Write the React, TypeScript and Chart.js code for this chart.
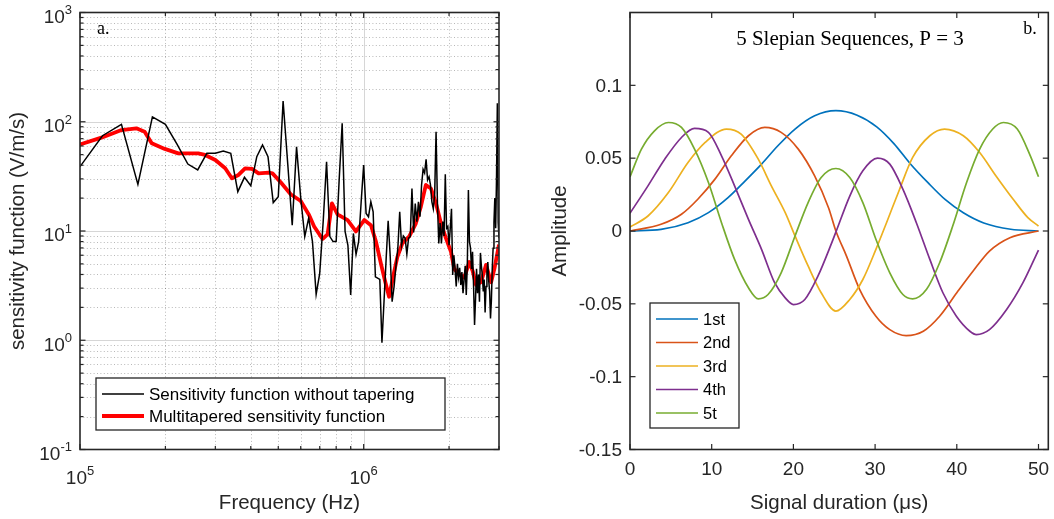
import React, { useEffect, useRef } from "react";
import { Chart, registerables } from "chart.js";

Chart.register(...registerables);

const FONT = '"Liberation Sans", Arial, Helvetica, sans-serif';
const SERIF = '"Liberation Serif", "Times New Roman", serif';
const AXIS = "#262626";

// ---------- Panel a: sensitivity function ----------
const rawFreqKHz = [
  100, 120, 140, 160, 180, 200, 220, 240, 260, 280,
  300, 320, 340, 360, 380, 400, 420, 440, 460, 480,
  500, 520, 540, 560, 580, 600, 620, 640, 660, 680,
  700, 720, 740, 760, 780, 800, 820, 840, 860, 880,
  900, 920, 940, 960, 980, 1000, 1020, 1040, 1060, 1080,
  1100, 1120, 1140, 1160, 1180, 1200, 1220, 1240, 1260, 1280,
  1300, 1320, 1340, 1360, 1380, 1400, 1420, 1440, 1460, 1480,
  1500, 1520, 1540, 1560, 1580, 1600, 1620, 1640, 1660, 1680,
  1700, 1720, 1740, 1760, 1780, 1800, 1820, 1840, 1860, 1880,
  1900, 1920, 1940, 1960, 1980, 2000, 2020, 2040, 2060, 2080,
  2100, 2120, 2140, 2160, 2180, 2200, 2220, 2240, 2260, 2280,
  2300, 2320, 2340, 2360, 2380, 2400, 2420, 2440, 2460, 2480,
  2500, 2520, 2540, 2560, 2580, 2600, 2620, 2640, 2660, 2680,
  2700, 2720, 2740, 2760, 2780, 2800, 2820, 2840, 2860, 2880,
  2900, 2920, 2940, 2960, 2980, 3000,
];
const rawSensitivity = [
  38.8, 74.5, 94.8, 26.7, 111, 94.8, 62, 41, 36.2, 51.4,
  51.4, 54, 51.4, 22.9, 31, 26, 47.9, 61.3, 47.9, 18.2,
  20.6, 155, 41, 11.3, 59, 20, 8.9, 13.1, 8.0, 2.63,
  4.1, 12.2, 43, 8.9, 8.0, 8.0, 30, 96.8, 9.9, 7.4,
  2.6, 9.5, 6.1, 8.0, 18.5, 40.2, 14.5, 13.5, 18.5, 15,
  3.8, 3.7, 3.6, 0.95, 2.3, 5.5, 12.4, 6.0, 2.25, 3.1,
  4.8, 7, 15, 7.4, 9.0, 8.6, 6.15, 8.6, 8.9, 24.5,
  9.7, 17.8, 12.2, 18.5, 13.5, 26.4, 36.7, 34, 45.3, 29.3,
  31.4, 26.4, 18.5, 16, 22, 81, 18, 7.7, 11.8, 7.7,
  12.2, 9, 33, 10.6, 11, 7.4, 10.6, 16, 3.95, 6,
  4.5, 3.1, 5, 3.8, 4.6, 3.2, 4.2, 2.7, 3.6, 4.8,
  2.6, 5, 23.7, 8, 7, 4.5, 6.45, 3.2, 1.38, 2.4,
  4.5, 2.7, 4, 2.25, 6.3, 4.8, 3.95, 2.8, 3.6, 1.8,
  3.1, 4.2, 5.2, 3.5, 2.8, 1.58, 2.3, 4.5, 6.95, 12,
  20, 10.6, 30, 148, 12, 8.6,
];
const taperFreqKHz = [
  100, 119, 140, 158, 169, 179, 199, 222, 261, 276,
  300, 325, 343, 362, 382, 404, 426, 462, 477, 510,
  553, 600, 642, 669, 716, 746, 773, 809, 878, 939,
  1005, 1061, 1105, 1151, 1189, 1229, 1280, 1315, 1369, 1446,
  1527, 1591, 1657, 1726, 1798, 1873, 1950, 2032, 2086, 2173,
  2263, 2358, 2423, 2490, 2594, 2701, 2813, 2890, 3000,
];
const taperSensitivity = [
  62, 71.5, 84, 87, 81, 63.5, 56.4, 51.4, 51.4, 49.7,
  44.7, 37.5, 30.4, 32.6, 37.5, 37, 33.7, 34.3, 33.7, 27.9,
  21.7, 18.8, 14, 11, 8.45, 9.3, 17.9, 14.2, 12.6, 9.9,
  12.6, 11.3, 8, 5, 3.5, 2.5, 4.2, 5.8, 7.7, 8.9,
  11.7, 16.7, 26.4, 24.5, 18, 11.7, 8.6, 6.45, 4.5, 4,
  3.75, 5.2, 4.3, 3.2, 3.4, 4.9, 3.4, 4.5, 7.5,
];
const freqMajorTicks = [1e5, 1e6];
const freqTickExponents = ["5", "6"];
const freqMinorTicks = [2e5, 3e5, 4e5, 5e5, 6e5, 7e5, 8e5, 9e5, 2e6, 3e6];
const sensMajorTicks = [0.1, 1, 10, 100, 1000];
const sensTickExponents = ["-1", "0", "1", "2", "3"];
const sensMinorTicks = [
  0.2, 0.3, 0.4, 0.5, 0.6, 0.7, 0.8, 0.9,
  2, 3, 4, 5, 6, 7, 8, 9,
  20, 30, 40, 50, 60, 70, 80, 90,
  200, 300, 400, 500, 600, 700, 800, 900,
];

// ---------- Panel b: Slepian sequences ----------
const seqLabels = ["1st", "2nd", "3rd", "4th", "5t"];
const seqColors = ["#0072BD", "#D95319", "#EDB120", "#7E2F8E", "#77AC30"];
const seq1T = [0, 3.8, 7.1, 9.6, 12.0, 14.1, 16.1, 18.1, 20.2, 22.6, 25.2, 27.8, 30.2, 32.3, 34.3, 36.5, 38.6, 40.8, 43.3, 46.6, 50];
const seq1A = [0, 0.0011, 0.0057, 0.0126, 0.0229, 0.0344, 0.0459, 0.0585, 0.070, 0.0791, 0.0826, 0.0795, 0.0715, 0.060, 0.0462, 0.033, 0.0215, 0.0125, 0.0055, 0.0012, 0];
const seq2T = [0, 3.8, 6.3, 8.3, 10.4, 12.4, 14.5, 16.5, 18.5, 20.6, 22.6, 24.3, 25.2, 26.5, 28.1, 30.1, 31.8, 33.8, 35.9, 37.9, 40.0, 42.0, 44.0, 46.5, 50];
const seq2A = [0, 0.0046, 0.0115, 0.0218, 0.0356, 0.0516, 0.0654, 0.0711, 0.0677, 0.0562, 0.0378, 0.016, 0, -0.0172, -0.040, -0.0585, -0.0677, -0.0718, -0.0688, -0.0585, -0.0424, -0.0275, -0.0138, -0.0046, 0];
const seq3T = [0, 2.2, 4.7, 7.1, 9.2, 11.8, 13.6, 15.7, 17.3, 19.0, 20.2, 21.8, 23.4, 25.2, 26.9, 28.5, 30.1, 31.4, 33.0, 34.6, 36.7, 38.5, 40.8, 42.8, 44.8, 46.9, 48.7, 50];
const seq3A = [0.0028, 0.0103, 0.0264, 0.047, 0.0608, 0.070, 0.0665, 0.0493, 0.031, 0.0126, -0.0034, -0.024, -0.0424, -0.055, -0.047, -0.0333, -0.0126, 0.0057, 0.0287, 0.0505, 0.0654, 0.070, 0.0654, 0.0539, 0.0378, 0.0218, 0.0092, 0.0034];
const seq4T = [0, 2.2, 4.25, 6.3, 7.9, 9.6, 11.2, 12.8, 14.5, 16.1, 17.7, 19.0, 20.0, 21.4, 23.0, 24.7, 25.25, 26.9, 28.5, 30.3, 31.8, 33.4, 35.05, 36.7, 38.3, 39.95, 41.6, 42.4, 44.0, 46.1, 48.1, 50];
const seq4A = [0.0122, 0.031, 0.0493, 0.0642, 0.0704, 0.0677, 0.0516, 0.031, 0.008, -0.0126, -0.0355, -0.0459, -0.0505, -0.047, -0.031, -0.008, 0, 0.024, 0.0413, 0.050, 0.0459, 0.0287, 0.0057, -0.0195, -0.0424, -0.0585, -0.0688, -0.0711, -0.0677, -0.0539, -0.0355, -0.0131];
const seq5T = [0, 1.4, 3.0, 4.7, 6.3, 7.9, 9.6, 11.2, 12.8, 14.5, 15.7, 16.9, 18.5, 20.2, 21.8, 23.4, 25.2, 26.9, 28.5, 30.1, 31.8, 33.4, 34.6, 36.3, 37.9, 39.5, 41.2, 42.8, 44.4, 45.7, 47.4, 49.0, 50];
const seq5A = [0.0372, 0.0562, 0.0688, 0.0745, 0.0711, 0.0562, 0.0333, 0.0057, -0.0195, -0.039, -0.0466, -0.0436, -0.0287, -0.0034, 0.0195, 0.0367, 0.0429, 0.0367, 0.0195, -0.0057, -0.0287, -0.0436, -0.0466, -0.040, -0.0218, 0.0034, 0.0333, 0.0562, 0.070, 0.0745, 0.070, 0.0516, 0.0372];
const seqTimes = [seq1T, seq2T, seq3T, seq4T, seq5T];
const seqAmps = [seq1A, seq2A, seq3A, seq4A, seq5A];
const timeTicks = [0, 10, 20, 30, 40, 50];
const timeTickLabels = ["0", "10", "20", "30", "40", "50"];
const ampTicks = [-0.15, -0.1, -0.05, 0, 0.05, 0.1];
const ampTickLabels = ["-0.15", "-0.1", "-0.05", "0", "0.05", "0.1"];

// ---------- helpers ----------
function line(ctx: CanvasRenderingContext2D, x1: number, y1: number, x2: number, y2: number) {
  ctx.beginPath();
  ctx.moveTo(x1, y1);
  ctx.lineTo(x2, y2);
  ctx.stroke();
}

function drawBoxAndTicks(chart: any, xMajor: number[], yMajor: number[], xMinor: number[], yMinor: number[]) {
  const { ctx, chartArea: a, scales } = chart;
  const x = scales.x;
  const y = scales.y;
  ctx.save();
  ctx.strokeStyle = AXIS;
  ctx.setLineDash([]);
  ctx.lineWidth = 1.2;
  const tick = (list: number[], len: number, horiz: boolean) => {
    for (const v of list) {
      if (horiz) {
        const px = x.getPixelForValue(v);
        if (px < a.left - 0.5 || px > a.right + 0.5) continue;
        line(ctx, px, a.bottom, px, a.bottom - len);
        line(ctx, px, a.top, px, a.top + len);
      } else {
        const py = y.getPixelForValue(v);
        if (py < a.top - 0.5 || py > a.bottom + 0.5) continue;
        line(ctx, a.left, py, a.left + len, py);
        line(ctx, a.right, py, a.right - len, py);
      }
    }
  };
  tick(xMajor, 5.5, true);
  tick(yMajor, 5.5, false);
  tick(xMinor, 3.5, true);
  tick(yMinor, 3.5, false);
  ctx.lineWidth = 1.6;
  ctx.strokeRect(a.left, a.top, a.right - a.left, a.bottom - a.top);
  ctx.restore();
}

// "10" with a raised exponent, as MATLAB draws log tick labels
function drawPowerLabel(
  ctx: CanvasRenderingContext2D, exp: string, anchorX: number, baseY: number, align: "center" | "right"
) {
  ctx.save();
  ctx.fillStyle = AXIS;
  ctx.textBaseline = "alphabetic";
  ctx.textAlign = "left";
  ctx.font = `19px ${FONT}`;
  const wBase = ctx.measureText("10").width;
  ctx.font = `13px ${FONT}`;
  const wExp = ctx.measureText(exp).width;
  const total = wBase + wExp;
  const x0 = align === "center" ? anchorX - total / 2 : anchorX - total;
  ctx.font = `19px ${FONT}`;
  ctx.fillText("10", x0, baseY);
  ctx.font = `13px ${FONT}`;
  ctx.fillText(exp, x0 + wBase, baseY - 8.5);
  ctx.restore();
}

function drawLegend(
  ctx: CanvasRenderingContext2D,
  bx: number, by: number, bw: number, bh: number,
  entries: { label: string; color: string; width: number }[],
  firstRow: number, rowGap: number, fontSize: number
) {
  ctx.save();
  ctx.setLineDash([]);
  ctx.fillStyle = "#ffffff";
  ctx.fillRect(bx, by, bw, bh);
  ctx.lineWidth = 1.3;
  ctx.strokeStyle = AXIS;
  ctx.strokeRect(bx, by, bw, bh);
  ctx.font = `${fontSize}px ${FONT}`;
  ctx.textBaseline = "middle";
  ctx.textAlign = "left";
  entries.forEach((e, i) => {
    const yy = by + firstRow + i * rowGap;
    ctx.strokeStyle = e.color;
    ctx.lineWidth = e.width;
    line(ctx, bx + 6, yy, bx + 48, yy);
    ctx.fillStyle = "#000000";
    ctx.fillText(e.label, bx + 53, yy + 1);
  });
  ctx.restore();
}

const leftDecor = {
  id: "leftDecor",
  beforeDatasetsDraw(chart: any) {
    const { ctx, chartArea: a, scales } = chart;
    const x = scales.x;
    const y = scales.y;
    ctx.save();
    ctx.lineWidth = 1;
    ctx.strokeStyle = "rgba(0,0,0,0.28)";
    ctx.setLineDash([1, 2.4]);
    for (const v of freqMinorTicks) {
      const px = Math.round(x.getPixelForValue(v)) + 0.5;
      if (px > a.left + 1 && px < a.right - 1) line(ctx, px, a.top, px, a.bottom);
    }
    for (const v of sensMinorTicks) {
      const py = Math.round(y.getPixelForValue(v)) + 0.5;
      if (py > a.top + 1 && py < a.bottom - 1) line(ctx, a.left, py, a.right, py);
    }
    ctx.setLineDash([]);
    ctx.strokeStyle = "#d6d6d6";
    for (const v of freqMajorTicks) {
      const px = Math.round(x.getPixelForValue(v)) + 0.5;
      if (px > a.left + 1 && px < a.right - 1) line(ctx, px, a.top, px, a.bottom);
    }
    for (const v of sensMajorTicks) {
      const py = Math.round(y.getPixelForValue(v)) + 0.5;
      if (py > a.top + 1 && py < a.bottom - 1) line(ctx, a.left, py, a.right, py);
    }
    ctx.restore();
  },
  afterDatasetsDraw(chart: any) {
    const { ctx, chartArea: a, scales } = chart;
    drawBoxAndTicks(chart, freqMajorTicks, sensMajorTicks, freqMinorTicks, sensMinorTicks);
    freqMajorTicks.forEach((v, i) => {
      drawPowerLabel(ctx, freqTickExponents[i], scales.x.getPixelForValue(v), a.bottom + 34, "center");
    });
    sensMajorTicks.forEach((v, i) => {
      drawPowerLabel(ctx, sensTickExponents[i], a.left - 8, scales.y.getPixelForValue(v) + 10.3, "right");
    });
    const ds = chart.data.datasets;
    drawLegend(
      ctx, a.left + 16, a.bottom - 71.5, 349, 52,
      ds.map((d: any) => ({ label: d.label, color: d.borderColor, width: d.borderWidth })),
      16, 22, 17
    );
    ctx.save();
    ctx.font = `18px ${SERIF}`;
    ctx.fillStyle = "#000";
    ctx.textAlign = "left";
    ctx.textBaseline = "alphabetic";
    ctx.fillText("a.", a.left + 17, a.top + 21);
    ctx.restore();
  },
};

const rightDecor = {
  id: "rightDecor",
  afterDatasetsDraw(chart: any) {
    const { ctx, chartArea: a } = chart;
    drawBoxAndTicks(chart, timeTicks, ampTicks, [], []);
    const ds = chart.data.datasets;
    drawLegend(
      ctx, a.left + 20, a.top + 290.5, 89, 125,
      ds.map((d: any) => ({ label: d.label, color: d.borderColor, width: d.borderWidth })),
      16, 23.5, 16.5
    );
    ctx.save();
    ctx.fillStyle = "#000";
    ctx.textBaseline = "alphabetic";
    ctx.font = `21px ${SERIF}`;
    ctx.textAlign = "center";
    ctx.fillText("5 Slepian Sequences, P = 3", a.left + 220, a.top + 32.5);
    ctx.font = `18px ${SERIF}`;
    ctx.textAlign = "left";
    ctx.fillText("b.", a.right - 25, a.top + 21);
    ctx.restore();
  },
};

function makeLeft(canvas: HTMLCanvasElement) {
  return new Chart(canvas, {
    type: "line",
    data: {
      datasets: [
        {
          label: "Sensitivity function without tapering",
          data: rawFreqKHz.map((f, i) => ({ x: f * 1000, y: rawSensitivity[i] })),
          borderColor: "#000000",
          borderWidth: 1.5,
          pointRadius: 0,
          tension: 0,
          order: 0,
        },
        {
          label: "Multitapered sensitivity function",
          data: taperFreqKHz.map((f, i) => ({ x: f * 1000, y: taperSensitivity[i] })),
          borderColor: "#ff0000",
          borderWidth: 3.8,
          pointRadius: 0,
          tension: 0,
          borderJoinStyle: "round",
          order: 1,
        },
      ],
    },
    options: {
      responsive: false,
      animation: false,
      events: [],
      layout: { padding: { left: 0, right: 28, top: 12.5, bottom: 0 } },
      plugins: { legend: { display: false }, tooltip: { enabled: false } },
      scales: {
        x: {
          type: "logarithmic",
          position: "bottom",
          min: 1e5,
          max: 3e6,
          grid: { display: false, drawTicks: false },
          border: { display: false },
          afterBuildTicks: (s: any) => {
            s.ticks = freqMajorTicks.map((v) => ({ value: v }));
          },
          afterFit: (s: any) => {
            s.height = 69.5;
            s.paddingLeft = 0;
            s.paddingRight = 0;
          },
          ticks: { display: false },
          title: {
            display: true,
            text: "Frequency (Hz)",
            color: AXIS,
            font: { family: FONT, size: 20.5 },
            padding: { top: 0, bottom: 3 },
          },
        },
        y: {
          type: "logarithmic",
          position: "left",
          min: 0.1,
          max: 1000,
          grid: { display: false, drawTicks: false },
          border: { display: false },
          afterBuildTicks: (s: any) => {
            s.ticks = sensMajorTicks.map((v) => ({ value: v }));
          },
          afterFit: (s: any) => {
            s.width = 80;
            s.paddingTop = 0;
            s.paddingBottom = 0;
          },
          ticks: { display: false },
          title: {
            display: true,
            text: "sensitivity function (V/m/s)",
            color: AXIS,
            font: { family: FONT, size: 20.5 },
            padding: { top: 6, bottom: 0 },
          },
        },
      },
    } as any,
    plugins: [leftDecor],
  });
}

function makeRight(canvas: HTMLCanvasElement) {
  return new Chart(canvas, {
    type: "line",
    data: {
      datasets: seqLabels.map((label, k) => ({
        label,
        data: seqTimes[k].map((t, i) => ({ x: t, y: seqAmps[k][i] })),
        borderColor: seqColors[k],
        borderWidth: 1.7,
        pointRadius: 0,
        cubicInterpolationMode: "monotone",
        order: 4 - k,
      })),
    },
    options: {
      responsive: false,
      animation: false,
      events: [],
      layout: { padding: { left: 0, right: 5.7, top: 12.5, bottom: 0 } },
      plugins: { legend: { display: false }, tooltip: { enabled: false } },
      scales: {
        x: {
          type: "linear",
          position: "bottom",
          min: 0,
          max: 51.2,
          grid: { display: false, drawTicks: false },
          border: { display: false },
          afterBuildTicks: (s: any) => {
            s.ticks = timeTicks.map((v) => ({ value: v }));
          },
          afterFit: (s: any) => {
            s.height = 69.5;
            s.paddingLeft = 0;
            s.paddingRight = 0;
          },
          ticks: {
            autoSkip: false,
            maxRotation: 0,
            padding: 9,
            color: AXIS,
            font: { family: FONT, size: 19 },
            callback: (_v: any, i: number) => timeTickLabels[i],
          },
          title: {
            display: true,
            text: "Signal duration (μs)",
            color: AXIS,
            font: { family: FONT, size: 20.5 },
            padding: { top: 0, bottom: 3 },
          },
        },
        y: {
          type: "linear",
          position: "left",
          min: -0.15,
          max: 0.15,
          grid: { display: false, drawTicks: false },
          border: { display: false },
          afterBuildTicks: (s: any) => {
            s.ticks = ampTicks.map((v) => ({ value: v }));
          },
          afterFit: (s: any) => {
            s.width = 103;
            s.paddingTop = 0;
            s.paddingBottom = 0;
          },
          ticks: {
            autoSkip: false,
            padding: 8,
            labelOffset: 1,
            color: AXIS,
            font: { family: FONT, size: 19 },
            callback: (_v: any, i: number) => ampTickLabels[i],
          },
          title: {
            display: true,
            text: "Amplitude",
            color: AXIS,
            font: { family: FONT, size: 20.5 },
            padding: { top: 21, bottom: 0 },
          },
        },
      },
    } as any,
    plugins: [rightDecor],
  });
}

function ChartCanvas({ left, make }: { left: number; make: (c: HTMLCanvasElement) => Chart }) {
  const ref = useRef<HTMLCanvasElement>(null);
  useEffect(() => {
    const chart = make(ref.current as HTMLCanvasElement);
    return () => chart.destroy();
  }, [make]);
  return (
    <canvas
      ref={ref}
      width={527}
      height={519}
      style={{ position: "absolute", left, top: 0, width: 527, height: 519 }}
    />
  );
}

export default function App() {
  return (
    <div
      style={{
        position: "absolute",
        left: 0,
        top: 0,
        width: 1054,
        height: 519,
        background: "#ffffff",
        overflow: "hidden",
      }}
    >
      <ChartCanvas left={0} make={makeLeft} />
      <ChartCanvas left={527} make={makeRight} />
    </div>
  );
}
